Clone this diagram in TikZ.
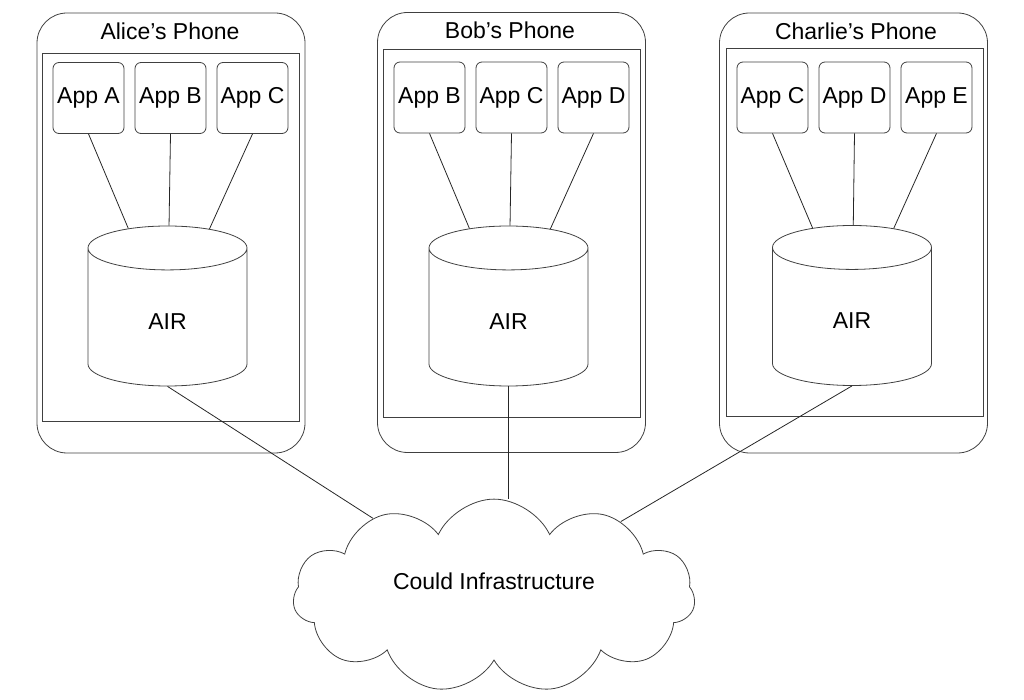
\documentclass[tikz,border=0pt]{standalone}
\usepackage{fontspec}
\setmainfont{Liberation Sans}
\usetikzlibrary{shapes.geometric,shapes.symbols,positioning}

\tikzstyle{phone} = [rectangle, rounded corners=15pt, minimum width=134pt,
minimum height=220pt, draw=black!75]
\tikzstyle{screen} = [rectangle, minimum width=128.5pt, minimum height=184pt,
draw=black!75]
\tikzstyle{app} = [rectangle, rounded corners=3pt, minimum width=35.5pt,
minimum height=35.5pt, inner sep=0pt, text centered, draw=black!75]
\tikzstyle{db} = [cylinder, shape border rotate=90, aspect=0.85,
minimum width=79.5pt, minimum height=80pt, draw=black!75, anchor=shape center]
\tikzstyle{net} = [cloud, cloud puffs=11, cloud puff arc=130, aspect=2.1,
minimum width=201pt, minimum height=94pt, text depth=15pt, draw=black!75]
\tikzstyle{link} = [draw=black!85]

\begin{document}
\begin{tikzpicture}[x=0.5pt, y=-0.5pt, font=\fontsize{11.5}{13}\selectfont,
  node distance=41pt]
  \useasboundingbox (0,0) rectangle (1024,700);
  % Alice
  \node (phA) [phone] at (171,233) {};
  \node (scA) [screen] at (170.5,237) {};
  \node (tA) at (170,31) {Alice’s Phone};
  \node (aA) [app] at (88.5,98) {App A};
  \node (aB) [app, right of=aA] {App B};
  \node (aC) [app, right of=aB] {App C};
  \node (dbA) [db] at (167.5,306) {AIR};
  % Bob
  \node (phB) [phone] at (511.5,232.5) {};
  \node (scB) [screen] at (511.5,233.5) {};
  \node (tB) at (510,30) {Bob’s Phone};
  \node (bB) [app] at (429.5,97.5) {App B};
  \node (bC) [app, right of=bB] {App C};
  \node (bD) [app, right of=bC] {App D};
  \node (dbB) [db] at (508.5,306) {AIR};
  % Charlie
  \node (phC) [phone] at (853.5,233) {};
  \node (scC) [screen] at (854.5,232) {};
  \node (tC) at (856,31) {Charlie’s Phone};
  \node (cC) [app] at (772.5,97.5) {App C};
  \node (cD) [app, right of=cC] {App D};
  \node (cE) [app, right of=cD] {App E};
  \node (dbC) [db] at (852,305.5) {AIR};
  % cloud
  \node (net) [net] at (494,596) {Could Infrastructure};
  % connections
  \path [link] (aA.south) edge (dbA) (aB.south) edge (dbA) (aC.south) edge (dbA);
  \path [link] (bB.south) edge (dbB) (bC.south) edge (dbB) (bD.south) edge (dbB);
  \path [link] (cC.south) edge (dbC) (cD.south) edge (dbC) (cE.south) edge (dbC);
  \path [link] (dbA.south) edge (net);
  \path [link] (dbB.south) edge (dbB.south |- net.north);
  \path [link] (dbC.south) edge (net);
\end{tikzpicture}
\end{document}
